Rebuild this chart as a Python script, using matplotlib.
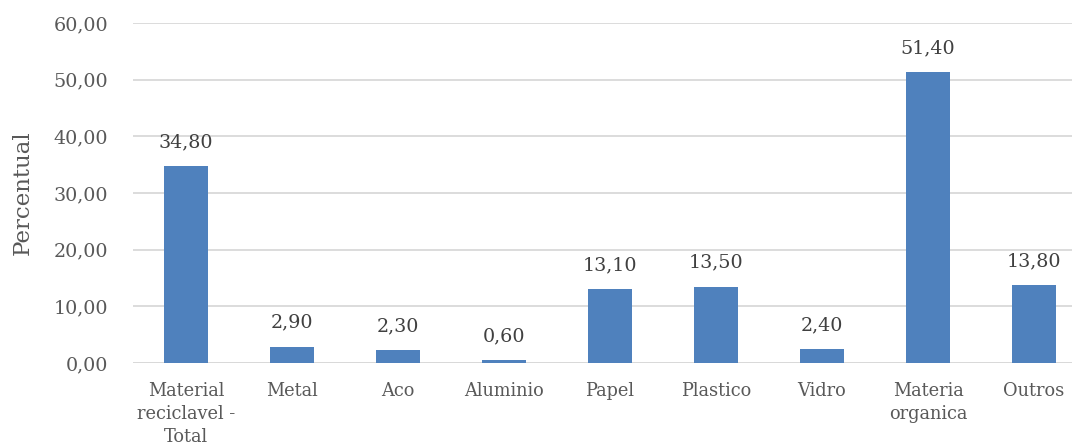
import matplotlib
matplotlib.use("Agg")
import matplotlib.pyplot as plt

categories = ["Material\nreciclavel -\nTotal", "Metal", "Aco", "Aluminio", "Papel",
              "Plastico", "Vidro", "Materia\norganica", "Outros"]
values = [34.80, 2.90, 2.30, 0.60, 13.10, 13.50, 2.40, 51.40, 13.80]
yticks = [0, 10, 20, 30, 40, 50, 60]

plt.rcParams['font.family'] = ['DejaVu Serif']
fig = plt.figure(figsize=(10.72, 4.48), dpi=100)
ax = fig.add_axes([133/1072, (448-363)/448, 954/1072, 340/448])

x = list(range(len(categories)))
ax.bar(x, values, width=0.41, color="#4F81BD", zorder=3)
for xi, v in zip(x, values):
    ax.text(xi, v + 2.6, f"{v:.2f}".replace(".", ","), ha="center", va="bottom",
            fontsize=13.8, color="#404040")

ax.set_xlim(-0.5, len(categories) - 0.5)
ax.set_ylim(0, 60)
ax.set_yticks(yticks)
ax.set_yticklabels([f"{t:.2f}".replace(".", ",") for t in yticks], fontsize=13.8, color="#595959")
ax.set_xticks(x)
ax.set_xticklabels(categories, fontsize=12.8, color="#595959", linespacing=1.33, va="top")
ax.tick_params(axis="both", length=0)
ax.tick_params(axis="x", pad=14)
ax.tick_params(axis="y", pad=18)
ax.grid(axis="y", color="#D9D9D9", linewidth=1.3, zorder=0)
for s in ["top", "right", "left", "bottom"]:
    ax.spines[s].set_visible(False)
ax.axhline(0, color="#D9D9D9", linewidth=1.3, zorder=2)
ax.set_ylabel("Percentual", fontsize=16.5, color="#595959", labelpad=14)

fig.savefig("out.png", dpi=100)
